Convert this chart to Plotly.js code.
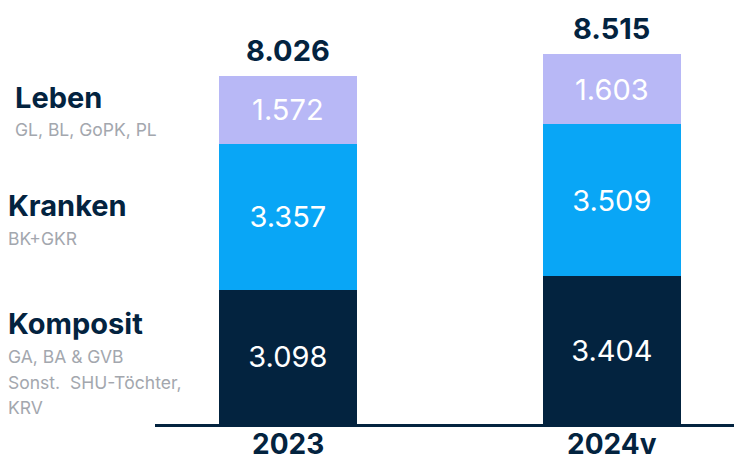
<!DOCTYPE html>
<html>
<head>
<meta charset="utf-8">
<script src="https://cdn.plot.ly/plotly-3.0.1.min.js"></script>
<style>html,body{margin:0;padding:0;background:#fff;}#chart{width:734px;height:462px;}</style>
</head>
<body>
<div id="chart"></div>
<script>
var categories = ["2023", "2024v"];
var komposit = [3.098, 3.404];
var kranken = [3.357, 3.509];
var leben = [1.572, 1.603];
var totals = [8.026, 8.515];
var seriesNames = ["Komposit", "Kranken", "Leben"];
var subLabels = [["GA, BA & GVB", "Sonst.  SHU-Töchter,", "KRV"], ["BK+GKR"], ["GL, BL, GoPK, PL"]];

var NAVY = "#03233f";
var FONT = "Inter, sans-serif";
var fmt = function (v) { return v.toFixed(3); };

function barTrace(name, vals, color) {
  return {
    type: "bar", name: name, x: categories, y: vals,
    marker: { color: color, line: { width: 0 } },
    text: vals.map(fmt), textposition: "inside", insidetextanchor: "middle",
    textfont: { family: FONT, size: 29, color: "#ffffff" },
    hoverinfo: "skip", cliponaxis: false
  };
}

var data = [
  barTrace(seriesNames[0], komposit, NAVY),
  barTrace(seriesNames[1], kranken, "#09a6f6"),
  barTrace(seriesNames[2], leben, "#b8b8f6")
];

var L = 155, W = 579, T = 12, H = 412;
function px(x) { return (x - L) / W; }
function py(y) { return (T + H - y) / H; }

var annotations = [];
categories.forEach(function (c, i) {
  annotations.push({
    x: i, y: totals[i], xref: "x", yref: "y", text: "<b>" + fmt(totals[i]) + "</b>",
    showarrow: false, yanchor: "bottom", yshift: 6,
    font: { family: FONT, size: 29, color: NAVY }
  });
  annotations.push({
    x: i, y: py(444), xref: "x", yref: "paper", text: "<b>" + c + "</b>",
    showarrow: false, yanchor: "middle",
    font: { family: FONT, size: 28, color: NAVY, weight: 800 }
  });
});

var leftMain = [
  { t: seriesNames[2], x: 13, y: 97 },
  { t: seriesNames[1], x: 6, y: 205 },
  { t: seriesNames[0], x: 6, y: 323 }
];
leftMain.forEach(function (m) {
  annotations.push({
    x: px(m.x), y: py(m.y), xref: "paper", yref: "paper", xanchor: "left", yanchor: "middle",
    text: "<b>" + m.t + "</b>", showarrow: false,
    font: { family: FONT, size: 29, color: NAVY }
  });
});
var subPos = [
  { t: subLabels[2][0], x: 13, y: 129 },
  { t: subLabels[1][0], x: 6, y: 238 },
  { t: subLabels[0][0], x: 6, y: 356 },
  { t: subLabels[0][1], x: 6, y: 382 },
  { t: subLabels[0][2], x: 6, y: 407 }
];
subPos.forEach(function (m) {
  annotations.push({
    x: px(m.x), y: py(m.y), xref: "paper", yref: "paper", xanchor: "left", yanchor: "middle",
    text: m.t, showarrow: false,
    font: { family: FONT, size: 17.5, color: "#a3a7ae" }
  });
});

var layout = {
  width: 734, height: 462,
  margin: { l: L, r: 0, t: T, b: 462 - T - H, pad: 0 },
  paper_bgcolor: "#ffffff", plot_bgcolor: "#ffffff",
  barmode: "stack", bargap: 0.574,
  showlegend: false,
  xaxis: {
    type: "category", range: [-0.41, 1.377],
    showline: true, linecolor: NAVY, linewidth: 3,
    showgrid: false, zeroline: false, ticks: "", showticklabels: false,
    fixedrange: true
  },
  yaxis: {
    range: [0, 9.49], visible: false, showgrid: false, zeroline: false, fixedrange: true
  },
  annotations: annotations
};

Plotly.newPlot("chart", data, layout, { displayModeBar: false, staticPlot: true });
</script>
</body>
</html>
